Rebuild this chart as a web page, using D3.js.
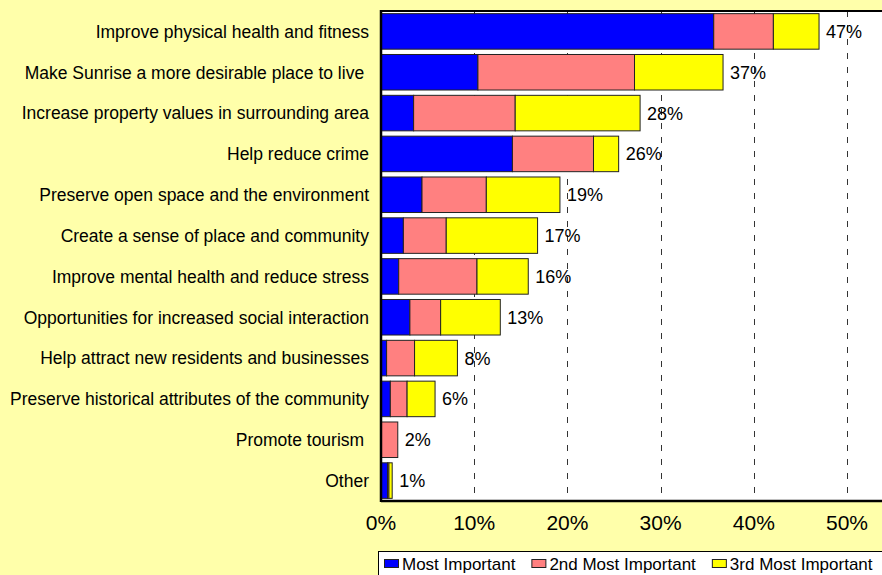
<!DOCTYPE html>
<html lang="en">
    <head>
        <meta charset="utf-8">
        <title>Benefits of the trail</title>
        <script src="https://d3js.org/d3.v7.min.js"></script>
        <style type="text/css">
        body {
            margin: 0;
            overflow: hidden;
        }
        text {
            font-family: "Liberation Sans", Arial, sans-serif;
            fill: #000;
        }
        .cat {
            font-size: 17.5px;
            white-space: pre;
        }
        .value {
            font-size: 18px;
        }
        .tick-label {
            font-size: 21px;
        }
        .legend-text {
            font-size: 17px;
        }
        </style>
    </head>
    <body>
    <div id="vis"></div>

    <script type="text/javascript">

        const categories = [
            "Improve physical health and fitness",
            "Make Sunrise a more desirable place to live ",
            "Increase property values in surrounding area",
            "Help reduce crime",
            "Preserve open space and the environment",
            "Create a sense of place and community",
            "Improve mental health and reduce stress",
            "Opportunities for increased social interaction",
            "Help attract new residents and businesses",
            "Preserve historical attributes of the community",
            "Promote tourism ",
            "Other"
        ];

        // percent of respondents
        const mostImportant   = [35.7, 10.4, 3.5, 14.1, 4.4, 2.4, 1.9, 3.1, 0.6, 1.0, 0.0, 0.7];
        const secondImportant = [6.4, 16.8, 10.9, 8.7, 6.9, 4.6, 8.4, 3.3, 3.0, 1.8, 1.8, 0.15];
        const thirdImportant  = [4.9, 9.5, 13.4, 2.7, 7.9, 9.8, 5.5, 6.4, 4.6, 3.0, 0.0, 0.35];

        const totalLabels = ["47%", "37%", "28%", "26%", "19%", "17%", "16%", "13%", "8%", "6%", "2%", "1%"];

        const seriesNames = ["Most Important", "2nd Most Important", "3rd Most Important"];
        const seriesColors = ["#0000ff", "#ff8080", "#ffff00"];

        const xTicks = [0, 10, 20, 30, 40, 50];

        const width = 882;
        const height = 575;
        const plotLeft = 381;
        const plotTop = 11;
        const plotBottom = 501;

        const rows = categories.map((c, i) => ({
            cat: c,
            s0: mostImportant[i],
            s1: secondImportant[i],
            s2: thirdImportant[i],
            label: totalLabels[i]
        }));

        const stack = d3.stack().keys(["s0", "s1", "s2"]);
        const layers = stack(rows);

        const xScale = d3.scaleLinear()
                         .domain([0, 55])
                         .range([plotLeft, plotLeft + 9.32 * 55]);

        const yScale = d3.scaleBand()
                         .domain(categories)
                         .range([plotTop, plotBottom])
                         .paddingInner(0.13)
                         .paddingOuter(0.065);

        const svg = d3.select("#vis")
                      .append("svg")
                      .attr("width", width)
                      .attr("height", height);

        // background
        svg.append("rect")
           .attr("width", width)
           .attr("height", height)
           .attr("fill", "#ffffaa");

        // plot area
        svg.append("rect")
           .attr("x", plotLeft)
           .attr("y", plotTop)
           .attr("width", width - plotLeft + 10)
           .attr("height", plotBottom - plotTop)
           .attr("fill", "#fff");

        // gridlines
        svg.append("g")
           .selectAll("line")
           .data(xTicks.filter(t => t > 0))
           .enter()
           .append("line")
           .attr("x1", d => Math.round(xScale(d)) + 0.5)
           .attr("x2", d => Math.round(xScale(d)) + 0.5)
           .attr("y1", plotTop)
           .attr("y2", plotBottom)
           .attr("stroke", "#333")
           .attr("stroke-width", 1)
           .attr("stroke-dasharray", "6,8");

        // bars
        svg.append("g")
           .selectAll("g")
           .data(layers)
           .enter()
           .append("g")
           .attr("fill", (d, i) => seriesColors[i])
           .selectAll("rect")
           .data(d => d.filter(p => p[1] - p[0] > 0))
           .enter()
           .append("rect")
           .attr("x", d => xScale(d[0]))
           .attr("y", d => yScale(d.data.cat))
           .attr("width", d => xScale(d[1]) - xScale(d[0]))
           .attr("height", yScale.bandwidth())
           .attr("stroke", "#222")
           .attr("stroke-width", 1);

        // value labels
        svg.append("g")
           .selectAll("text")
           .data(rows)
           .enter()
           .append("text")
           .attr("class", "value")
           .attr("x", d => xScale(d.s0 + d.s1 + d.s2) + 7)
           .attr("y", d => yScale(d.cat) + yScale.bandwidth() / 2)
           .attr("dy", "0.36em")
           .text(d => d.label);

        // category labels
        svg.append("g")
           .selectAll("text")
           .data(categories)
           .enter()
           .append("text")
           .attr("class", "cat")
           .attr("x", 369)
           .attr("y", d => yScale(d) + yScale.bandwidth() / 2)
           .attr("dy", "0.36em")
           .attr("text-anchor", "end")
           .text(d => d);

        // frame lines
        svg.append("line")
           .attr("x1", plotLeft).attr("x2", width)
           .attr("y1", plotTop).attr("y2", plotTop)
           .attr("stroke", "#000").attr("stroke-width", 2);
        svg.append("line")
           .attr("x1", plotLeft).attr("x2", width)
           .attr("y1", plotBottom).attr("y2", plotBottom)
           .attr("stroke", "#000").attr("stroke-width", 2.5);
        svg.append("line")
           .attr("x1", plotLeft).attr("x2", plotLeft)
           .attr("y1", plotTop - 1).attr("y2", plotBottom + 1)
           .attr("stroke", "#000").attr("stroke-width", 2.5);

        // x tick labels
        svg.append("g")
           .selectAll("text")
           .data(xTicks)
           .enter()
           .append("text")
           .attr("class", "tick-label")
           .attr("x", d => xScale(d))
           .attr("y", 530)
           .attr("text-anchor", "middle")
           .text(d => d + "%");

        // legend
        const legend = svg.append("g");
        legend.append("rect")
              .attr("x", 378.5)
              .attr("y", 551.5)
              .attr("width", 520)
              .attr("height", 40)
              .attr("fill", "#fff")
              .attr("stroke", "#000")
              .attr("stroke-width", 1);

        let lx = 384;
        seriesNames.forEach((name, i) => {
            legend.append("rect")
                  .attr("x", lx + 0.5)
                  .attr("y", 559.5)
                  .attr("width", 14)
                  .attr("height", 8)
                  .attr("fill", seriesColors[i])
                  .attr("stroke", "#222")
                  .attr("stroke-width", 1);
            const t = legend.append("text")
                  .attr("class", "legend-text")
                  .attr("x", lx + 18)
                  .attr("y", 570)
                  .text(name);
            lx += 18 + t.node().getComputedTextLength() + 16;
        });

    </script>
    </body>
</html>
